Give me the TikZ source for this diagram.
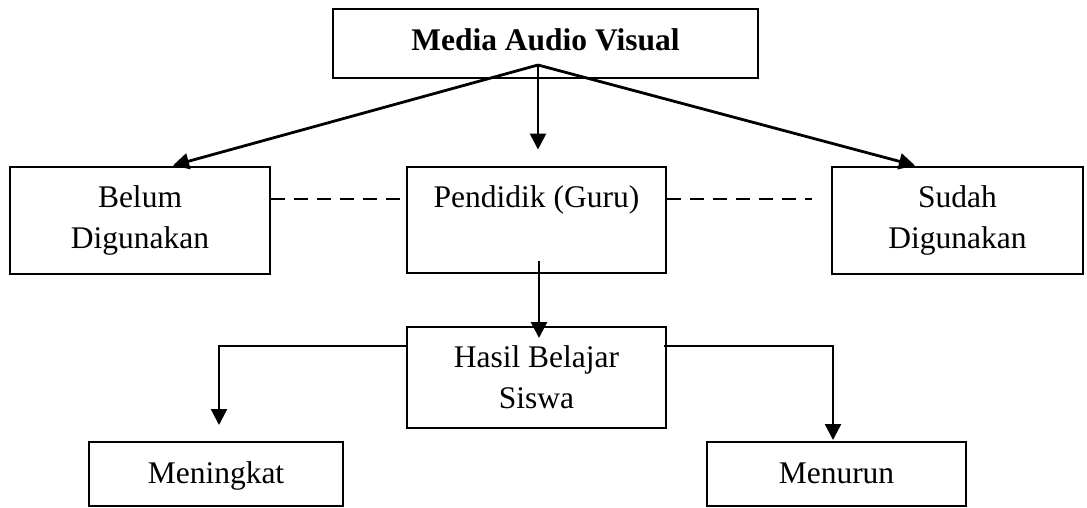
\documentclass[tikz,border=0pt]{standalone}
\usepackage{fontspec}
\setmainfont{Liberation Serif}
\usetikzlibrary{arrows.meta}
\begin{document}
\begin{tikzpicture}[x=1pt,y=-1pt,
  box/.style={draw,line width=2pt,inner sep=0pt,align=center,font=\fontsize{31.5}{41}\selectfont},
  arr/.style={line width=2.8pt,-{Triangle[length=16pt,width=16pt]}},
  dashline/.style={line width=1.8pt,dash pattern=on 14pt off 9pt}]
\useasboundingbox (0,0) rectangle (1087,507);
\node[box,minimum width=425pt,minimum height=69pt,text height=22pt,text depth=9pt,font=\fontsize{31.5}{41}\selectfont\bfseries] (media) at (545.5,43.5) {Media Audio Visual};
\node[box,minimum width=260pt,minimum height=107pt] (belum) at (140,220) {Belum\\Digunakan};
\node[box,minimum width=259pt,minimum height=106pt] (pend) at (536.5,220) {Pendidik (Guru)\\\phantom{Digunakan}};
\node[box,minimum width=251pt,minimum height=107pt] (sudah) at (957.5,220) {Sudah\\Digunakan};
\node[box,minimum width=259pt,minimum height=101pt] (hasil) at (536.5,377.5) {Hasil Belajar\\Siswa};
\node[box,minimum width=254pt,minimum height=64pt,text height=21.5pt,text depth=3pt] (naik) at (216,474) {Meningkat};
\node[box,minimum width=259pt,minimum height=64pt,text height=21.5pt,text depth=3pt] (turun) at (836.5,474) {Menurun};
\coordinate (apex) at ([xshift=-7.5pt,yshift=14pt]media.south);
\draw[arr] (apex) -- ([xshift=33pt]belum.north);
\draw[arr] (apex) -- ([xshift=-42.5pt]sudah.north);
\draw[arr] (apex) -- ([xshift=1.5pt,yshift=16.5pt]pend.north);
\draw[dashline] ([yshift=21pt]belum.east) -- ([yshift=21pt]pend.west);
\draw[dashline] ([yshift=21pt]pend.east) -- ([xshift=-19pt,yshift=21pt]sudah.west);
\draw[arr] ([xshift=2.5pt,yshift=13pt]pend.south) -- ([xshift=2.5pt,yshift=-12pt]hasil.north);
\draw[arr,line width=2.3pt] ([yshift=31.5pt]hasil.west) -| ([xshift=3pt,yshift=16pt]naik.north);
\draw[arr,line width=2.3pt] ([xshift=-3pt,yshift=31.5pt]hasil.east) -| ([xshift=-3.5pt,yshift=1pt]turun.north);
\end{tikzpicture}
\end{document}
